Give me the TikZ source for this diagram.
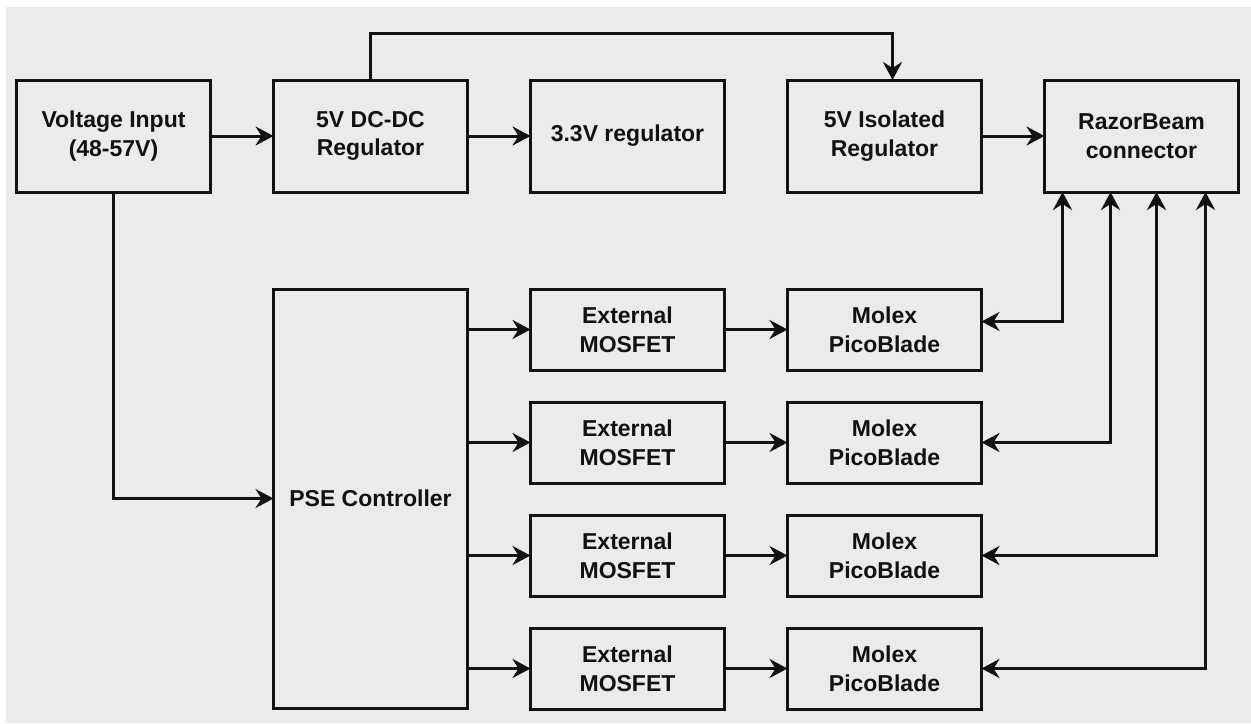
\documentclass[tikz,border=0pt]{standalone}
\usepackage{fontspec}
\setmainfont{Liberation Sans}
\definecolor{panelgray}{RGB}{235,235,235}
\definecolor{inkblack}{RGB}{17,17,17}
\usetikzlibrary{arrows.meta,positioning,calc}

\begin{document}
\begin{tikzpicture}[x=0.5pt, y=-0.5pt, node distance=31.5pt,
    block/.style={draw=inkblack, line width=1.5pt, outer sep=0pt, inner sep=2pt,
      minimum width=97pt, minimum height=56pt, align=center, text=inkblack,
      font=\fontsize{11.5}{14.3}\selectfont\bfseries},
    rowblock/.style={block, minimum height=40.5pt},
    feed/.style={draw=inkblack, line width=1.5pt,
      -{Stealth[length=9pt, width=9.5pt, inset=3pt]}},
    link/.style={draw=inkblack, line width=1.5pt,
      {Stealth[length=9pt, width=9.5pt, inset=3pt]}-{Stealth[length=9pt, width=9.5pt, inset=3pt]}}]
  \useasboundingbox (0,0) rectangle (1251,723);
  \fill[panelgray] (6,7) rectangle (1251,723);

  \node[block] (vin) at (113.5,136) {Voltage Input\\(48-57V)};
  \node[block, right=of vin] (dcdc) {5V DC-DC\\Regulator};
  \node[block, right=of dcdc] (ldo) {3.3V regulator};
  \node[block, right=of ldo] (iso) {5V Isolated\\Regulator};
  \node[block, right=of iso] (razor) {RazorBeam\\connector};

  \node[block, below=48.5pt of dcdc, minimum height=209.5pt] (pse) {PSE Controller};
  \node[rowblock, below=48.5pt of ldo] (fet1) {External\\MOSFET};
  \node[rowblock, below=48.5pt of iso] (mlx1) {Molex\\PicoBlade};
  \foreach \i [remember=\i as \j (initially 1)] in {2,3,4} {
    \node[rowblock, below=16pt of fet\j] (fet\i) {External\\MOSFET};
    \node[rowblock, below=16pt of mlx\j] (mlx\i) {Molex\\PicoBlade};
  }

  \draw[feed] (vin) -- (dcdc);
  \draw[feed] (dcdc) -- (ldo);
  \draw[feed] (iso) -- (razor);
  \draw[feed] (dcdc.north) -- ++(0,-47) -| ([xshift=4pt]iso.north);
  \draw[feed] (vin.south) |- (pse.west);

  \foreach \i in {1,...,4} {
    \draw[feed] (pse.east |- fet\i.west) -- (fet\i.west);
    \draw[feed] (fet\i) -- (mlx\i);
  }

  \draw[link] ([xshift=9pt]razor.south west) |- ([yshift=4pt]mlx1.east);
  \draw[link] ([xshift=33pt]razor.south west) |- (mlx2.east);
  \draw[link] ([xshift=56pt]razor.south west) |- (mlx3.east);
  \draw[link] ([xshift=80.5pt]razor.south west) |- (mlx4.east);
\end{tikzpicture}
\end{document}
